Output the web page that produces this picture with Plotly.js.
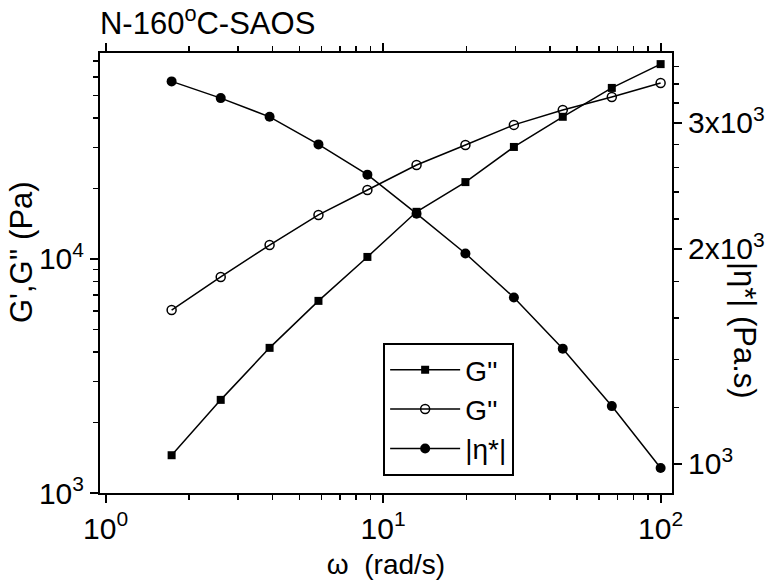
<!DOCTYPE html>
<html><head><meta charset="utf-8">
<script src="https://cdn.plot.ly/plotly-3.0.1.min.js"></script>
<style>body{margin:0;background:#fff}#c{width:769px;height:584px}</style>
</head><body><div id="c"></div>
<script>
// frequency (rad/s)
const omega = [1.73, 2.6, 3.9, 5.85, 8.78, 13.2, 19.8, 29.6, 44.4, 66.7, 100];
// storage modulus G' (Pa)  (filled squares)
const Gp  = [1450, 2500, 4170, 6620, 10200, 15900, 21300, 30100, 40500, 53800, 68000];
// loss modulus G'' (Pa)  (open circles)
const Gpp = [6050, 8380, 11470, 15420, 19700, 25200, 30700, 37400, 43300, 49200, 56500];
// complex viscosity |eta*| (Pa.s)  (filled circles, right axis)
const eta = [3430, 3250, 3060, 2800, 2540, 2240, 1970, 1710, 1450, 1205, 987];

const xTickVals = [1, 10, 100];
const xTickText = ['10<sup>0</sup>', '10<sup>1</sup>', '10<sup>2</sup>'];
const yTickVals = [1000, 10000];
const yTickText = ['10<sup>3</sup>', '10<sup>4</sup>'];
const y2TickVals = [1000, 2000, 3000];
const y2TickText = ['10<sup>3</sup>', '2x10<sup>3</sup>', '3x10<sup>3</sup>'];

function minorVals(lo, hi) {
  const out = [];
  for (let d = lo; d <= hi; d *= 10) for (let k = 2; k <= 9; k++) out.push(k * d);
  return out;
}
function minorLin(lo, hi, step) {
  const out = [];
  for (let v = lo; v <= hi; v += step) out.push(v);
  return out;
}

const F = 'Liberation Sans, Arial, sans-serif';
const line = {color: '#000', width: 1.5};

const traces = [
  {x: omega, y: Gp, type: 'scatter', mode: 'lines+markers', name: "G''",
   line: line, marker: {symbol: 'square', size: 8, color: '#000'}},
  {x: omega, y: Gpp, type: 'scatter', mode: 'lines+markers', name: "G''",
   line: line, marker: {symbol: 'circle-open', size: 9, color: '#000', line: {width: 1.5, color: '#000'}}},
  {x: omega, y: eta, type: 'scatter', mode: 'lines+markers', name: '|η*|', yaxis: 'y2',
   line: line, marker: {symbol: 'circle', size: 10, color: '#000'}}
];

const layout = {
  width: 769, height: 584,
  margin: {l: 100, r: 97, t: 53, b: 91},
  paper_bgcolor: '#fff', plot_bgcolor: '#fff',
  font: {family: F, size: 28, color: '#000'},
  showlegend: true,
  title: {text: 'N-160<sup>o</sup>C-SAOS', x: 0.13, xanchor: 'left', y: 0.96, yanchor: 'middle',
          font: {family: F, size: 31, color: '#000'}},
  xaxis: {type: 'log', range: [-0.02, 2.041], showgrid: false, zeroline: false,
          showline: true, linecolor: '#000', linewidth: 2, mirror: 'ticks',
          ticks: 'outside', ticklen: 8, tickwidth: 2, tickcolor: '#000',
          tickvals: xTickVals, ticktext: xTickText, tickfont: {family: F, size: 30},
          minor: {tickvals: minorVals(1, 10), ticks: 'outside', ticklen: 5, tickwidth: 1.5, tickcolor: '#000'},
          title: {text: 'ω  (rad/s)', font: {family: F, size: 28}, standoff: 10}},
  yaxis: {type: 'log', range: [3, 4.88], showgrid: false, zeroline: false,
          showline: true, linecolor: '#000', linewidth: 2,
          ticks: 'outside', ticklen: 8, tickwidth: 2, tickcolor: '#000',
          tickvals: yTickVals, ticktext: yTickText, tickfont: {family: F, size: 30},
          minor: {tickvals: minorVals(1000, 10000), ticks: 'outside', ticklen: 5, tickwidth: 1.5, tickcolor: '#000'}},
  yaxis2: {type: 'log', range: [2.9594, 3.575], overlaying: 'y', side: 'right',
           showgrid: false, zeroline: false, showline: true, linecolor: '#000', linewidth: 2,
           ticks: 'outside', ticklen: 8, tickwidth: 2, tickcolor: '#000',
           tickvals: y2TickVals, ticktext: y2TickText, tickfont: {family: F, size: 30},
           minor: {tickvals: minorLin(1000, 3800, 200), ticks: 'outside', ticklen: 5, tickwidth: 1.5, tickcolor: '#000'}},
  annotations: [
    {text: "G',G'' (Pa)", xref: 'paper', yref: 'paper', x: -0.136, y: 0.548,
     xanchor: 'center', yanchor: 'middle', textangle: -90, showarrow: false,
     font: {family: F, size: 31, color: '#000'}},
    {text: '|η*| (Pa.s)', xref: 'paper', yref: 'paper', x: 1.128, y: 0.37,
     xanchor: 'center', yanchor: 'middle', textangle: 90, showarrow: false,
     font: {family: F, size: 31, color: '#000'}}
  ],
  legend: {x: 0.495, y: 0.341, xanchor: 'left', yanchor: 'top',
           bgcolor: '#fff', bordercolor: '#000', borderwidth: 2,
           font: {family: F, size: 28}, itemwidth: 70, tracegroupgap: 0}
};

Plotly.newPlot('c', traces, layout, {staticPlot: true});
</script></body></html>
